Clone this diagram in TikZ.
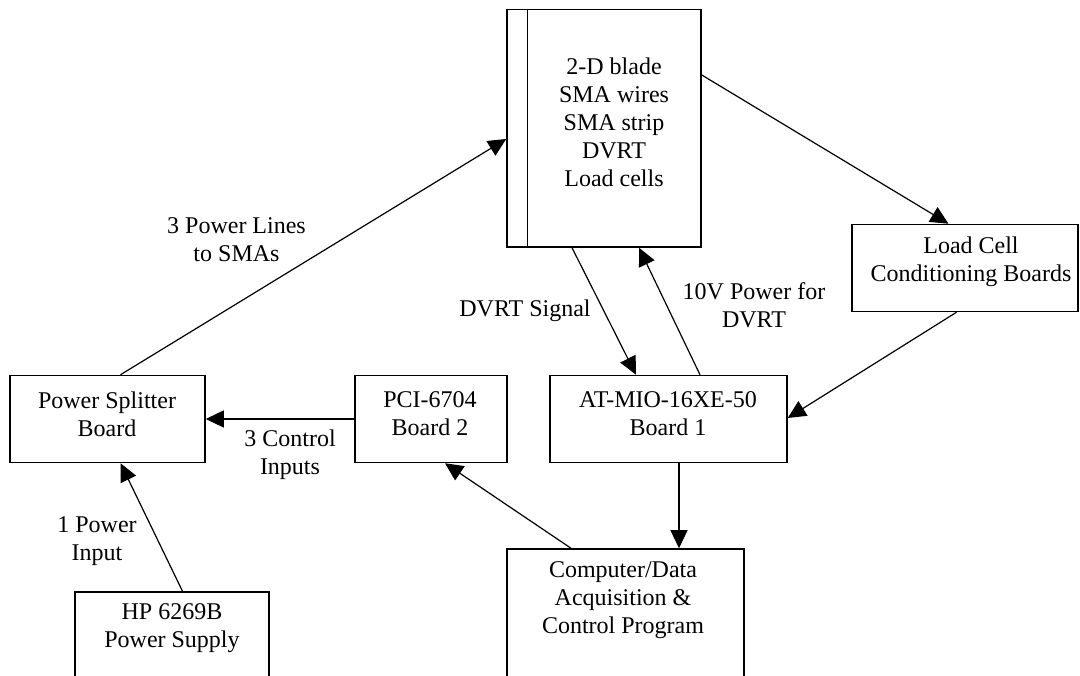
\documentclass[tikz,border=0pt]{standalone}
\usepackage{fontspec}
\setmainfont{Liberation Serif}
\usetikzlibrary{arrows.meta,calc}
\begin{document}
\begin{tikzpicture}[x=1pt,y=1pt,
  box/.style={draw, line width=1.5pt, rectangle, inner sep=0pt},
  txt/.style={font=\fontsize{24}{28}\selectfont, align=center, inner sep=0pt},
  conn/.style={line width=1.2pt, -{Triangle[length=18pt,width=17pt]}}]
\clip (0,0) rectangle (1080,676);
\fill[white] (0,0) rectangle (1080,676);
% boxes
\node[box, minimum width=194pt, minimum height=237.5pt] (blade) at (604,547.75) {};
\draw[line width=1.5pt] ([xshift=21pt]blade.north west) -- ([xshift=21pt]blade.south west);
\node[txt] (bladetext) at (614,554) {2-D blade\\SMA wires\\SMA strip\\DVRT\\Load cells};
\node[box, minimum width=226pt, minimum height=87pt] (lc) at (965,408) {};
\node[txt] (lctext) at (971,414) {Load Cell\\Conditioning Boards};
\node[box, minimum width=237pt, minimum height=87pt] (at) at (668.5,257) {};
\node[txt] (attext) at (668,262) {AT-MIO-16XE-50\\Board 1};
\node[box, minimum width=152pt, minimum height=87pt] (pci) at (431,257) {};
\node[txt] (pcitext) at (430,262) {PCI-6704\\Board 2};
\node[box, minimum width=195pt, minimum height=87pt] (ps) at (107.5,257) {};
\node[txt] (pstext) at (107,262) {Power Splitter\\Board};
\node[box, minimum width=194pt, minimum height=110pt] (hp) at (172,29) {};
\node[txt] (hptext) at (172,47.5) {HP 6269B\\Power Supply};
\node[box, minimum width=237pt, minimum height=150pt] (comp) at (625.5,52) {};
\node[txt] (comptext) at (623,76) {Computer/Data\\Acquisition \&\\Control Program};
% connectors
\draw[conn] ([xshift=13pt]ps.north) -- ([yshift=-10.75pt]blade.west);
\draw[conn] ([yshift=53.25pt]blade.east) -- ([xshift=-16.5pt]lc.north);
\draw[conn] ([xshift=-32pt]blade.south) -- ([xshift=-32.5pt]at.north);
\draw[conn] ([xshift=31.5pt]at.north) -- ([xshift=35pt]blade.south);
\draw[conn] ([xshift=-8.5pt]lc.south) -- ([yshift=1pt]at.east);
\draw[conn] (pci.west) -- (ps.east);
\draw[conn] ([xshift=10.5pt]hp.north) -- ([xshift=13pt]ps.south);
\draw[conn] ([xshift=-54.5pt]comp.north) -- ([xshift=14pt]pci.south);
\draw[conn] ([xshift=10.5pt]at.south) -- ([xshift=10.5pt]at.south |- comp.north);
% labels
\node[txt] (l1) at (236.5,436.5) {3 Power Lines\\to SMAs};
\node[txt] (l2) at (525,365) {DVRT Signal};
\node[txt] (l3) at (754,371) {10V Power for\\DVRT};
\node[txt] (l4) at (290,221) {3 Control\\Inputs};
\node[txt] (l5) at (97,134.5) {1 Power\\Input};
\end{tikzpicture}
\end{document}
